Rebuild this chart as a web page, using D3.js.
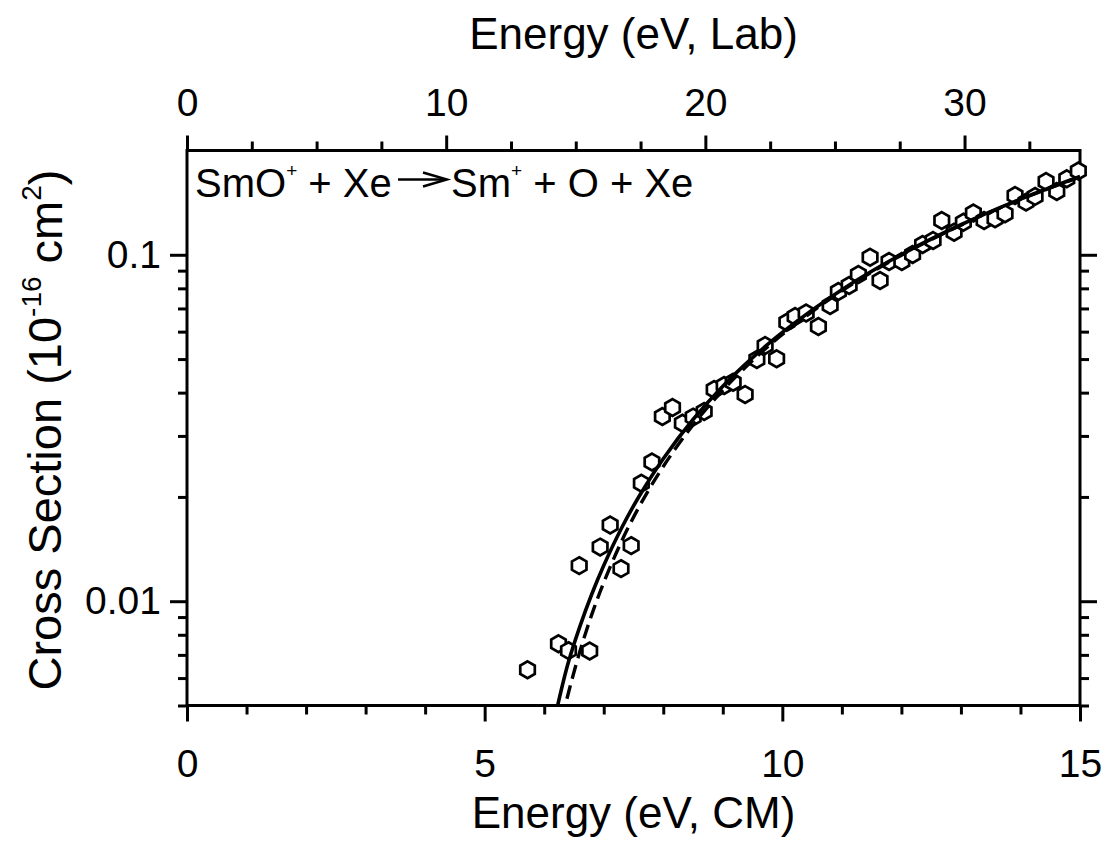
<!DOCTYPE html>
<html>
<head>
<meta charset="utf-8">
<script src="https://cdn.jsdelivr.net/npm/d3@7"></script>
<style>
  html, body { margin: 0; padding: 0; background: #fff; }
  svg { display: block; font-family: "Liberation Sans", Arial, Helvetica, sans-serif; }
</style>
</head>
<body>
<svg id="chart" width="1106" height="846"></svg>
<script>
// Measured cross sections (10^-16 cm^2) versus centre-of-mass energy (eV)
const energyCM = [
  5.720, 6.240, 6.408, 6.588, 6.764, 6.940, 7.108, 7.290, 7.461, 7.632,
  7.810, 7.985, 8.155, 8.321, 8.502, 8.687, 8.855, 9.023, 9.174, 9.375,
  9.572, 9.711, 9.904, 10.076, 10.215, 10.400, 10.606, 10.803, 10.942, 11.122,
  11.278, 11.474, 11.642, 11.793, 12.007, 12.188, 12.356, 12.532, 12.678, 12.885,
  13.041, 13.209, 13.389, 13.573, 13.741, 13.909, 14.094, 14.245, 14.430, 14.610,
  14.778, 14.972
];
const crossSection = [
  0.00634, 0.00754, 0.00720, 0.01267, 0.00718, 0.01433, 0.01659, 0.01242, 0.01447, 0.02191,
  0.02522, 0.03412, 0.03623, 0.03265, 0.03400, 0.03527, 0.04083, 0.04194, 0.04287, 0.03950,
  0.04985, 0.05470, 0.05008, 0.06389, 0.06634, 0.06792, 0.06209, 0.07139, 0.07834, 0.08153,
  0.08773, 0.09841, 0.08430, 0.09564, 0.09564, 0.10020, 0.10710, 0.11000, 0.12560, 0.11620,
  0.12420, 0.13200, 0.12560, 0.12700, 0.13130, 0.14830, 0.14190, 0.14740, 0.16280, 0.15230,
  0.16580, 0.17460
];

// Model cross section (solid) and its unconvoluted counterpart (dashed)
const fitSolidE     = [6.22, 6.40, 6.60, 6.80, 7.00, 7.30, 7.60, 8.00, 8.50, 9.00, 9.50, 10.0, 11.0, 12.0, 13.0, 14.0, 15.0];
const fitSolidSigma = [0.00495, 0.00661, 0.00846, 0.01049, 0.01268, 0.01627, 0.02016, 0.02579, 0.03346, 0.04173, 0.05048, 0.05971, 0.07930, 0.1002, 0.1221, 0.1448, 0.1683];
const fitDashedE     = [6.30, 6.40, 6.60, 6.80, 7.00, 7.30, 7.60, 8.00, 8.50, 9.00, 9.50, 10.0, 11.0, 12.0, 13.0, 14.0, 15.0];
const fitDashedSigma = [0.00456, 0.00538, 0.00717, 0.00916, 0.01132, 0.01490, 0.01881, 0.02449, 0.03226, 0.04064, 0.04951, 0.05888, 0.07870, 0.09975, 0.1218, 0.1445, 0.1679];

// Axis ticks
const bottomTicks = [0, 5, 10, 15];
const topTicks = [0, 10, 20, 30];
const yTicks = [0.01, 0.1];
const yTickLabels = ["0.01", "0.1"];
const labPerCM = 2.297;   // (m_ion + m_Xe) / m_Xe

const svg = d3.select("#chart");
const L = 187, R = 1080, T = 150.5, B = 705.5;

const x = d3.scaleLinear().domain([0, 15]).range([L, R]);
const xLab = d3.scaleLinear().domain([0, 15 * labPerCM]).range([L, R]);
const y = d3.scaleLog().domain([0.005, 0.2]).range([B, T]);

const yMinor = [];
[0.001, 0.01].forEach(dec => { for (let k = 2; k <= 9; k++) yMinor.push(+(k * dec).toFixed(4)); });
const yMinorIn = yMinor.filter(v => v >= 0.005 && v <= 0.2 && !yTicks.includes(v));
const bottomMinor = d3.range(0, 15.01, 1).filter(v => !bottomTicks.includes(v));
const topMinor = d3.range(0, 15 * labPerCM, 2.5).filter(v => v % 10 !== 0);

const tickFont = 39;

function styleAxis(g) {
  g.select(".domain").remove();
  g.selectAll(".tick line").attr("stroke", "#000").attr("stroke-width", 3);
  g.selectAll("text").attr("font-size", tickFont).attr("fill", "#000")
    .attr("font-family", '"Liberation Sans", Arial, sans-serif');
}

// Bottom axis (CM energy)
svg.append("g").attr("transform", `translate(0,${B})`)
  .call(d3.axisBottom(x).tickValues(bottomTicks).tickSize(16).tickPadding(28).tickFormat(d3.format("d")))
  .call(styleAxis);
svg.append("g").attr("transform", `translate(0,${B})`)
  .call(d3.axisBottom(x).tickValues(bottomMinor).tickSize(9).tickFormat(""))
  .call(styleAxis);

// Top axis (Lab energy)
svg.append("g").attr("transform", `translate(0,${T})`)
  .call(d3.axisTop(xLab).tickValues(topTicks).tickSize(15).tickPadding(20).tickFormat(d3.format("d")))
  .call(styleAxis);
svg.append("g").attr("transform", `translate(0,${T})`)
  .call(d3.axisTop(xLab).tickValues(topMinor).tickSize(9).tickFormat(""))
  .call(styleAxis);

// Left axis (log cross section)
svg.append("g").attr("transform", `translate(${L},0)`)
  .call(d3.axisLeft(y).tickValues(yTicks).tickSize(17).tickPadding(9)
    .tickFormat((d, i) => yTickLabels[i]))
  .call(styleAxis);
svg.append("g").attr("transform", `translate(${L},0)`)
  .call(d3.axisLeft(y).tickValues(yMinorIn).tickSize(9).tickFormat(""))
  .call(styleAxis);

// Right axis (ticks only)
svg.append("g").attr("transform", `translate(${R},0)`)
  .call(d3.axisRight(y).tickValues(yTicks).tickSize(17).tickFormat(""))
  .call(styleAxis);
svg.append("g").attr("transform", `translate(${R},0)`)
  .call(d3.axisRight(y).tickValues(yMinorIn).tickSize(9).tickFormat(""))
  .call(styleAxis);

// Frame
svg.append("rect")
  .attr("x", L).attr("y", T).attr("width", R - L).attr("height", B - T)
  .attr("fill", "none").attr("stroke", "#000").attr("stroke-width", 3);

// Data points: open hexagons
function hexagon(r) {
  const p = d3.path();
  for (let k = 0; k < 6; k++) {
    const a = -Math.PI / 2 + k * Math.PI / 3;
    const px = r * Math.cos(a), py = r * Math.sin(a);
    if (k === 0) p.moveTo(px, py); else p.lineTo(px, py);
  }
  p.closePath();
  return p.toString();
}
const points = energyCM.map((e, i) => [e, crossSection[i]]);
svg.append("g").selectAll("path")
  .data(points).join("path")
  .attr("d", hexagon(8.4))
  .attr("transform", d => `translate(${x(d[0])},${y(d[1])})`)
  .attr("fill", "#fff").attr("stroke", "#000").attr("stroke-width", 2.7);

// Model curves
svg.append("clipPath").attr("id", "plotClip")
  .append("rect").attr("x", L).attr("y", T).attr("width", R - L).attr("height", B - T);
const line = d3.line().x(d => x(d[0])).y(d => y(d[1])).curve(d3.curveCatmullRom.alpha(0.5));
const curves = svg.append("g").attr("clip-path", "url(#plotClip)");
curves.append("path")
  .datum(fitDashedE.map((e, i) => [e, fitDashedSigma[i]]))
  .attr("d", line).attr("fill", "none").attr("stroke", "#000")
  .attr("stroke-width", 3.4).attr("stroke-dasharray", "14,7");
curves.append("path")
  .datum(fitSolidE.map((e, i) => [e, fitSolidSigma[i]]))
  .attr("d", line).attr("fill", "none").attr("stroke", "#000").attr("stroke-width", 3.6);

// Axis titles
svg.append("text").attr("x", (L + R) / 2).attr("y", 49).attr("text-anchor", "middle")
  .attr("font-size", 44).text("Energy (eV, Lab)");
svg.append("text").attr("x", (L + R) / 2).attr("y", 828).attr("text-anchor", "middle")
  .attr("font-size", 44).text("Energy (eV, CM)");

const yTitle = svg.append("text")
  .attr("transform", `translate(61,${(T + B) / 2 + 2}) rotate(-90)`)
  .attr("text-anchor", "middle").attr("font-size", 47);
yTitle.append("tspan").text("Cross Section (10");
yTitle.append("tspan").attr("font-size", 28).attr("dy", "-0.72em").text("-16");
yTitle.append("tspan").attr("dy", "0.44em").text(" cm");
yTitle.append("tspan").attr("font-size", 28).attr("dy", "-0.72em").text("2");
yTitle.append("tspan").attr("dy", "0.44em").text(")");

// Reaction label
const lhs = svg.append("text").attr("x", 195).attr("y", 197).attr("font-size", 40);
lhs.append("tspan").text("SmO");
lhs.append("tspan").attr("font-size", 19).attr("dy", -20).text("+");
lhs.append("tspan").attr("dy", 20).text(" + Xe");

svg.append("line").attr("x1", 398).attr("y1", 179.5).attr("x2", 446).attr("y2", 179.5)
  .attr("stroke", "#000").attr("stroke-width", 2.4);
svg.append("path").attr("d", "M423,172.5 L447,179.5 L423,186.5")
  .attr("fill", "none").attr("stroke", "#000").attr("stroke-width", 2.4);

const rhs = svg.append("text").attr("x", 451).attr("y", 197).attr("font-size", 40);
rhs.append("tspan").text("Sm");
rhs.append("tspan").attr("font-size", 19).attr("dy", -20).text("+");
rhs.append("tspan").attr("dy", 20).text(" + O + Xe");
</script>
</body>
</html>
